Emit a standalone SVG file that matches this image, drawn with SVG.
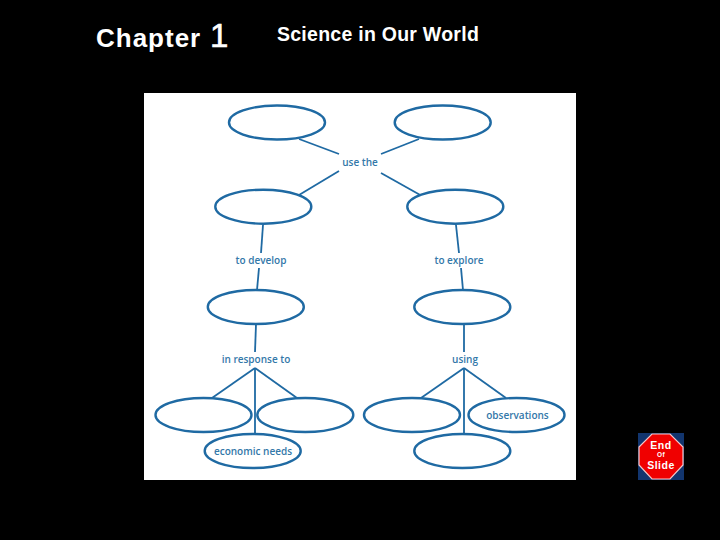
<svg xmlns="http://www.w3.org/2000/svg" width="720" height="540" viewBox="0 0 720 540">
<style>
.n{fill:#fff;stroke:#1f6aa3;stroke-width:2.4}
.c line{stroke:#1f6aa3;stroke-width:1.8;fill:none}
.l{font-family:"Open Sans","Noto Sans",sans-serif;font-size:10px;font-weight:600;fill:#3378a9;text-anchor:middle}
.h{font-family:"Liberation Sans",Arial,sans-serif;fill:#fff}
.s{font-family:"Liberation Sans",Arial,sans-serif;font-weight:700;fill:#fff;text-anchor:middle;letter-spacing:.5px}
</style>
<rect width="720" height="540" fill="#000"/>
<text class="h" x="96" y="47" font-size="26" font-weight="700" letter-spacing="1">Chapter</text>
<text class="h" x="210" y="47" font-size="33" stroke="#fff" stroke-width=".6">1</text>
<text class="h" x="277" y="41" font-size="19.5" font-weight="700" letter-spacing=".26">Science in Our World</text>
<rect x="144" y="93" width="432" height="387" fill="#fff"/>
<g class="c" id="connectors">
<line x1="299" y1="139" x2="339" y2="154"/>
<line x1="419" y1="139" x2="381" y2="154"/>
<line x1="339" y1="171" x2="299" y2="195"/>
<line x1="381" y1="173" x2="422" y2="196"/>
<line x1="263" y1="225" x2="261" y2="253"/>
<line x1="259" y1="268" x2="257" y2="290"/>
<line x1="456" y1="225" x2="459" y2="253"/>
<line x1="461" y1="268" x2="463" y2="290"/>
<line x1="256" y1="324" x2="255" y2="352"/>
<line x1="464" y1="324" x2="464" y2="352"/>
<line x1="255" y1="368" x2="212" y2="398"/>
<line x1="255" y1="368" x2="297" y2="398"/>
<line x1="255" y1="368" x2="255" y2="434"/>
<line x1="464" y1="368" x2="421" y2="398"/>
<line x1="464" y1="368" x2="506" y2="398"/>
<line x1="464" y1="368" x2="464" y2="434"/>
</g>
<g id="n1"><ellipse class="n" cx="277" cy="122.5" rx="48" ry="17"/></g>
<g id="n2"><ellipse class="n" cx="442.7" cy="122.5" rx="48" ry="17"/></g>
<g id="n3"><ellipse class="n" cx="263.3" cy="206.7" rx="48" ry="17"/></g>
<g id="n4"><ellipse class="n" cx="455.3" cy="206.7" rx="48" ry="17"/></g>
<g id="n5"><ellipse class="n" cx="255.8" cy="307" rx="48" ry="17"/></g>
<g id="n6"><ellipse class="n" cx="462.3" cy="307" rx="48" ry="17"/></g>
<g id="n7"><ellipse class="n" cx="203.5" cy="415" rx="48" ry="17"/></g>
<g id="n8"><ellipse class="n" cx="305.3" cy="415" rx="48" ry="17"/></g>
<g id="n9"><ellipse class="n" cx="412" cy="415" rx="48" ry="17"/></g>
<g id="n10"><ellipse class="n" cx="516.5" cy="415" rx="48" ry="17"/><text class="l" x="517.5" y="419">observations</text></g>
<g id="n11"><ellipse class="n" cx="252.7" cy="451" rx="48" ry="17"/><text class="l" x="253" y="455">economic needs</text></g>
<g id="n12"><ellipse class="n" cx="462.3" cy="451" rx="48" ry="17"/></g>
<g id="labels">
<text class="l" x="360" y="166">use the</text>
<text class="l" x="261" y="264">to develop</text>
<text class="l" x="459" y="264">to explore</text>
<text class="l" x="256" y="363">in response to</text>
<text class="l" x="465" y="363">using</text>
</g>
<g id="end-of-slide">
<rect x="638" y="433" width="46" height="47" fill="#12356e"/>
<polygon points="652,434 670,434 683,447 683,465 670,479 652,479 639,465 639,447" fill="#f00000" stroke="#f4c8c8" stroke-width="1.2"/>
<text class="s" x="661" y="449" font-size="10.5">End</text>
<text class="s" x="661" y="457" font-size="6.5" font-weight="400">Of</text>
<text class="s" x="661" y="468.5" font-size="10.5">Slide</text>
</g>
</svg>
